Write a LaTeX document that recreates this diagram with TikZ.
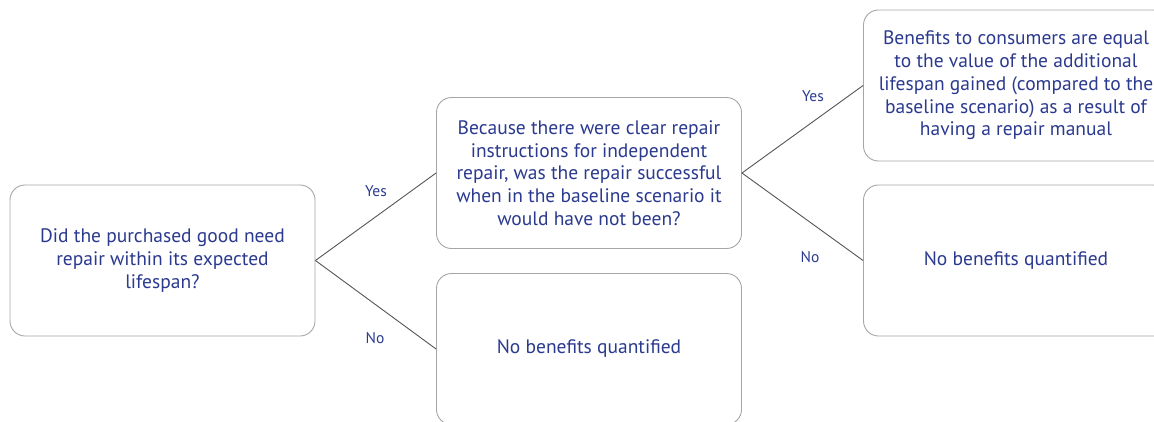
\documentclass[tikz,border=0pt]{standalone}
\usepackage{fontspec}
\setmainfont{PT Sans}
\definecolor{txtblue}{HTML}{2B3A8F}
\definecolor{boxgray}{HTML}{A6A6A6}
\definecolor{linegray}{HTML}{555555}
\begin{document}
\begin{tikzpicture}[x=1pt, y=-1pt,
    box/.style={draw=boxgray, line width=0.9pt, rounded corners=15pt, fill=white,
      minimum width=305pt, minimum height=151pt, align=center, text=txtblue,
      font=\fontsize{19.5}{22.7}\selectfont},
    branch/.style={draw=linegray, line width=0.9pt},
    answer/.style={text=txtblue, font=\fontsize{15.5}{17}\selectfont}]
    \useasboundingbox (0,0) rectangle (1154,421);
    \clip (0,0) rectangle (1154,421);

    \node[box] (need) at (162.5,260.5) {Did the purchased good need\\repair within its expected\\lifespan?};
    \node[box] (success) at (589,173) {Because there were clear repair\\instructions for independent\\repair, was the repair successful\\when in the baseline scenario it\\would have not been?};
    \node[box] (none1) at (589,349) {No benefits quantified};
    \node[box] (gain) at (1016,85.5) {Benefits to consumers are equal\\to the value of the additional\\lifespan gained (compared to the\\baseline scenario) as a result of\\having a repair manual};
    \node[box] (none2) at (1016,260.5) {No benefits quantified};

    \draw[branch] (need.east) -- (success.west);
    \draw[branch] (need.east) -- (none1.west);
    \draw[branch] (success.east) -- (gain.west);
    \draw[branch] (success.east) -- (none2.west);

    \node[answer] (yes1) at (376,191) {Yes};
    \node[answer] (no1) at (375,338) {No};
    \node[answer] (yes2) at (813,96) {Yes};
    \node[answer] (no2) at (810,257) {No};
  \end{tikzpicture}
\end{document}
